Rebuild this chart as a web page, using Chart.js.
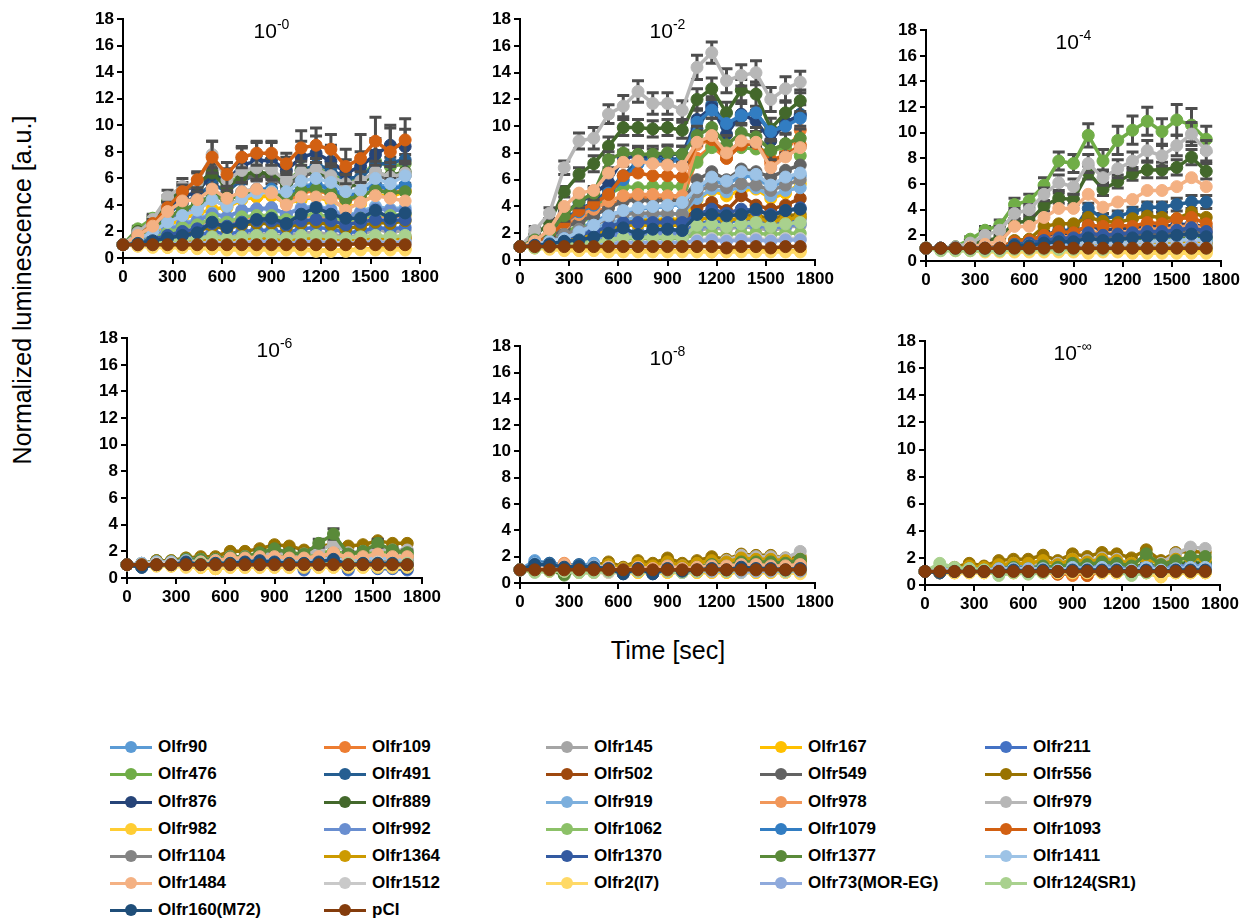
<!DOCTYPE html>
<html>
<head>
<meta charset="utf-8">
<script src="https://cdn.jsdelivr.net/npm/chart.js@4.4.1/dist/chart.umd.min.js"></script>
<style>
  body { margin: 0; background: #fff; }
  #page { position: relative; width: 1254px; height: 921px; overflow: hidden; font-family: "Liberation Sans", Arial, sans-serif; }
  #page canvas { position: absolute; }
  #yTitle { position: absolute; left: 22px; top: 290px; transform: translate(-50%, -50%) rotate(-90deg); font-size: 25px; white-space: nowrap; color: #000; }
  #xTitle { position: absolute; left: 668px; top: 650px; transform: translate(-50%, -50%); font-size: 25px; white-space: nowrap; color: #000; }
  .leg-item { position: absolute; height: 20px; display: flex; align-items: center; transform: translateY(-50%); }
  .leg-mark { position: relative; width: 42px; height: 20px; margin-right: 6px; }
  .leg-mark .ln { position: absolute; left: 0; right: 0; top: 8.5px; height: 3px; }
  .leg-mark .dot { position: absolute; left: 15px; top: 4px; width: 12px; height: 12px; border-radius: 50%; }
  .leg-text { font-size: 17px; font-weight: bold; color: #000; white-space: nowrap; }
</style>
</head>
<body>
<div id="page">
  <div id="yTitle">Normalized luminescence [a.u.]</div>
  <div id="xTitle">Time [sec]</div>
</div>
<script>
// Receptor names and their line colours
const names = ["Olfr90", "Olfr109", "Olfr145", "Olfr167", "Olfr211", "Olfr476", "Olfr491", "Olfr502",
  "Olfr549", "Olfr556", "Olfr876", "Olfr889", "Olfr919", "Olfr978", "Olfr979", "Olfr982",
  "Olfr992", "Olfr1062", "Olfr1079", "Olfr1093", "Olfr1104", "Olfr1364", "Olfr1370", "Olfr1377",
  "Olfr1411", "Olfr1484", "Olfr1512", "Olfr2(I7)", "Olfr73(MOR-EG)", "Olfr124(SR1)", "Olfr160(M72)", "pCI"];
const colors = ["#5B9BD5", "#ED7D31", "#A5A5A5", "#FFC000", "#4472C4", "#70AD47", "#255E91", "#9E480E",
  "#636363", "#997300", "#264478", "#43682B", "#7CAFDD", "#F1975A", "#B7B7B7", "#FFCD33",
  "#698ED0", "#8CC168", "#327DC2", "#D26012", "#848484", "#CC9A00", "#335AA1", "#5A8A39",
  "#9DC3E6", "#F4B183", "#C9C9C9", "#FFD966", "#8FAADC", "#A9D18E", "#1F4E79", "#843C0C"];

// Sampling times (sec)
const timeSec = [0, 90, 180, 270, 360, 450, 540, 630, 720, 810, 900, 990, 1080, 1170, 1260, 1350, 1440, 1530, 1620, 1710];

// Dose titles (exponent of 10)
const doseLabels = ["-0", "-2", "-4", "-6", "-8", "-\u221E"];

// Normalized luminescence, one row per receptor (same order as names)
const dose0 = [
  [1,1.5,2.2,3.0,3.6,3.9,4.8,4.3,4.9,5.0,5.1,4.6,5.4,5.6,5.3,4.7,5.0,5.6,5.3,5.5],
  [1,1.4,2.0,2.8,3.3,3.6,4.4,3.9,4.5,4.6,4.7,4.2,4.9,5.1,4.8,4.3,4.6,5.2,4.9,5.1],
  [1,1.1,1.2,1.3,1.4,1.5,1.7,1.5,1.7,1.8,1.8,1.6,1.9,1.9,1.8,1.6,1.7,2.2,1.9,2.1],
  [1,1.3,1.8,2.4,3.0,3.3,3.7,3.8,4.4,4.6,4.7,4.1,4.4,4.6,4.3,3.8,4.1,4.8,4.6,5.0],
  [1,1.1,1.2,1.4,1.6,1.7,2.0,1.8,2.0,2.1,2.1,1.9,2.2,2.3,2.2,1.9,2.0,2.3,2.2,2.3],
  [1,2.2,3.0,4.3,5.2,5.4,6.3,5.5,6.3,6.5,6.3,5.7,6.7,6.8,6.3,5.8,6.0,7.3,6.9,7.1],
  [1,1.6,2.3,3.3,4.2,4.6,5.6,5.0,5.9,6.2,6.3,5.6,6.6,7.0,6.7,6.0,6.1,7.0,7.2,7.4],
  [1,1.0,1.1,1.2,1.3,1.3,1.5,1.4,1.5,1.6,1.6,1.4,1.6,1.6,1.5,1.4,1.5,1.6,1.5,1.6],
  [1,1.8,2.7,4.0,5.1,5.4,6.6,5.4,6.0,6.2,6.1,5.4,6.2,6.4,6.0,5.3,5.6,6.3,5.9,6.2],
  [1,1.1,1.3,1.5,1.8,2.0,2.4,2.2,2.5,2.6,2.6,2.3,2.6,2.7,2.5,2.2,2.4,2.7,2.6,2.8],
  [1,1.6,2.4,3.6,4.6,5.0,6.3,5.8,7.0,7.3,7.4,6.6,7.6,7.9,7.3,6.4,6.9,7.8,8.5,8.4],
  [1,2.0,2.8,4.2,5.3,5.6,6.4,5.3,6.2,6.5,6.3,5.6,6.6,6.6,6.0,5.4,5.6,6.4,6.2,6.5],
  [1,1.3,1.7,2.2,2.6,2.9,3.4,3.1,3.5,3.7,3.7,3.3,3.8,3.9,3.7,3.2,3.5,3.9,3.7,3.8],
  [1,1.2,1.5,1.9,2.3,2.5,2.9,2.6,3.0,3.1,3.1,2.7,3.1,3.2,3.0,2.7,2.9,3.2,3.1,3.2],
  [1,1.9,2.9,4.6,5.4,5.7,7.8,5.9,6.6,6.8,6.7,5.8,6.5,6.7,6.2,5.6,5.8,6.5,6.1,6.4],
  [1,0.9,0.9,0.8,0.8,0.8,0.7,0.7,0.7,0.7,0.7,0.7,0.7,0.6,0.6,0.6,0.7,0.7,0.7,0.7],
  [1,1.2,1.6,2.1,2.5,2.8,3.3,3.1,3.6,3.7,3.8,3.3,3.7,3.8,3.6,3.1,3.4,3.7,3.6,3.6],
  [1,1.2,1.5,1.9,2.3,2.5,3.0,2.7,3.1,3.2,3.2,2.9,3.2,3.3,3.1,2.8,3.0,3.3,3.2,3.3],
  [1,1.5,2.1,2.9,3.6,4.0,4.8,4.4,5.0,5.2,5.2,4.7,5.3,5.5,5.2,4.6,5.0,5.4,5.2,5.4],
  [1,1.6,2.6,3.8,5.0,5.9,7.6,6.3,7.6,7.9,7.9,7.1,8.3,8.5,8.2,6.9,7.5,8.8,8.0,8.9],
  [1,1.0,1.1,1.1,1.2,1.2,1.3,1.2,1.3,1.3,1.3,1.2,1.3,1.4,1.3,1.2,1.3,1.4,1.3,1.4],
  [1,1.0,1.1,1.2,1.3,1.3,1.4,1.3,1.4,1.5,1.5,1.3,1.5,1.5,1.4,1.3,1.4,1.5,1.4,1.5],
  [1,1.2,1.4,1.7,2.0,2.2,2.6,2.4,2.7,2.8,2.8,2.5,2.8,2.9,2.8,2.5,2.7,2.9,2.8,2.9],
  [1,1.5,2.1,3.0,3.7,4.0,4.8,4.3,4.9,5.1,5.0,4.5,5.1,5.2,4.9,4.4,4.7,5.1,4.9,5.0],
  [1,1.4,2.0,2.7,3.2,3.6,4.4,3.9,4.5,4.9,5.0,5.0,5.8,6.0,5.7,5.0,5.1,6.0,5.6,6.2],
  [1,1.7,2.4,3.5,4.3,4.4,5.2,4.5,5.0,5.2,4.9,4.0,4.6,4.6,4.5,3.6,4.2,4.7,4.5,4.3],
  [1,1.0,1.0,1.1,1.1,1.1,1.2,1.1,1.2,1.2,1.2,1.1,1.2,1.2,1.2,1.1,1.2,1.2,1.2,1.2],
  [1,0.9,0.8,0.8,0.8,0.7,0.7,0.6,0.6,0.6,0.6,0.6,0.6,0.5,0.5,0.5,0.6,0.6,0.6,0.6],
  [1,1.0,1.0,1.1,1.1,1.1,1.1,1.1,1.1,1.2,1.2,1.1,1.2,1.2,1.1,1.1,1.1,1.2,1.1,1.2],
  [1,1.1,1.2,1.3,1.4,1.5,1.6,1.5,1.6,1.7,1.7,1.5,1.7,1.7,1.6,1.5,1.6,1.7,1.6,1.7],
  [1,1.1,1.3,1.5,1.7,1.9,2.7,2.3,2.6,2.9,3.0,2.6,3.3,3.8,3.3,3.0,3.0,3.6,3.0,3.4],
  [1,1.0,1.0,1.0,1.0,1.0,1.0,1.0,1.0,1.0,1.0,1.0,1.0,1.0,1.0,1.0,1.1,1.0,1.0,1.0]
];
const dose2 = [
  [1,1.3,1.6,2.0,2.4,2.8,3.4,3.6,3.8,3.9,4.0,4.2,5.3,6.0,5.6,6.3,6.2,5.4,6.0,6.3],
  [1,1.3,1.8,2.6,3.2,3.5,4.0,4.6,4.7,4.6,4.6,4.5,7.6,8.5,7.6,8.6,8.7,7.2,8.0,9.7],
  [1,1.1,1.2,1.3,1.4,1.5,1.6,1.7,1.7,1.7,1.7,1.7,2.2,2.4,2.3,2.5,2.4,2.2,2.4,2.6],
  [1,1.1,1.3,1.6,1.9,2.2,2.6,3.0,3.0,3.0,3.1,3.0,4.5,5.2,4.8,5.2,5.3,4.6,5.0,5.7],
  [1,1.1,1.2,1.4,1.6,1.7,1.9,2.1,2.1,2.1,2.1,2.1,2.7,2.9,2.8,3.0,3.0,2.7,2.9,3.1],
  [1,1.2,1.4,2.0,2.6,3.5,4.9,5.5,5.4,5.5,5.5,5.5,7.3,8.4,8.3,8.4,8.3,8.1,8.5,7.8],
  [1,1.4,1.9,3.0,3.8,4.3,5.2,6.3,7.4,7.6,7.5,7.6,9.8,11.6,10.0,10.7,11.0,9.5,10.2,10.9],
  [1,1.1,1.2,1.5,1.8,2.0,2.4,2.7,2.8,2.8,2.9,2.8,3.9,4.3,3.7,4.8,4.1,3.8,4.1,4.6],
  [1,1.3,1.7,2.4,2.9,3.3,3.9,4.4,4.5,4.4,4.5,4.4,6.0,6.6,6.0,6.8,6.6,6.2,6.7,7.1],
  [1,1.1,1.3,1.6,1.9,2.2,2.7,2.9,2.9,2.9,2.9,2.9,3.3,3.6,3.3,3.4,3.3,3.1,3.3,3.4],
  [1,1.4,2.0,3.5,4.3,4.9,5.8,7.6,7.8,7.7,7.9,7.9,10.5,11.4,9.4,10.9,10.4,8.9,10.3,10.8],
  [1,1.8,2.8,5.1,6.4,7.2,8.5,9.9,9.9,9.8,9.9,9.7,12.0,12.8,11.0,12.7,12.4,9.8,11.0,11.9],
  [1,1.2,1.4,1.7,2.0,2.3,2.8,3.0,3.2,3.3,3.4,3.5,4.6,5.3,5.1,5.5,5.4,4.8,5.2,5.4],
  [1,1.3,1.9,2.7,3.4,3.8,4.4,4.8,4.9,4.9,4.8,4.8,8.6,9.0,8.0,8.8,8.7,7.3,7.8,8.5],
  [1,2.2,3.5,6.9,8.9,9.1,10.9,11.5,12.6,11.7,11.7,11.2,14.4,15.5,13.4,13.8,14.0,12.0,12.8,13.3],
  [1,0.9,0.9,0.8,0.8,0.8,0.7,0.7,0.7,0.7,0.7,0.7,0.7,0.6,0.7,0.7,0.7,0.7,0.7,0.7],
  [1,1.1,1.2,1.4,1.5,1.6,1.8,1.9,1.9,1.9,2.0,1.9,2.4,2.6,2.5,2.6,2.6,2.4,2.5,2.7],
  [1,1.0,1.1,1.2,1.3,1.4,1.5,1.6,1.6,1.6,1.6,1.6,1.9,2.0,1.9,2.0,2.0,1.9,2.0,2.0],
  [1,1.3,1.8,2.8,3.6,4.1,5.0,6.0,7.2,7.4,7.3,7.5,10.3,11.2,10.2,10.8,11.0,9.6,10.0,10.6],
  [1,1.3,1.8,2.8,3.7,4.2,4.9,6.3,6.5,6.3,6.3,6.2,8.8,9.0,7.6,8.6,8.7,7.5,7.8,8.6],
  [1,1.2,1.4,1.9,2.3,2.6,3.1,3.4,3.5,3.5,3.5,3.4,5.1,5.6,5.4,5.7,5.6,5.2,5.6,6.0],
  [1,1.1,1.2,1.5,1.7,1.9,2.3,2.6,2.6,2.6,2.6,2.6,3.0,3.2,3.0,3.1,3.1,2.9,3.0,3.2],
  [1,1.1,1.3,1.6,1.9,2.1,2.5,2.8,2.8,2.8,2.8,2.8,3.4,3.8,3.5,3.8,3.7,3.4,3.7,3.9],
  [1,1.5,2.1,3.3,4.4,5.0,7.5,8.0,7.9,7.9,8.0,7.9,9.3,9.9,8.6,9.5,9.2,8.2,8.7,9.1],
  [1,1.2,1.4,1.6,2.1,2.6,3.3,3.7,3.9,4.0,4.1,4.3,5.4,6.2,5.9,6.6,6.4,5.6,6.2,6.5],
  [1,1.4,2.3,4.0,5.0,5.2,6.5,7.3,7.4,7.2,7.1,7.0,8.8,9.3,8.0,8.9,8.8,6.9,7.7,8.4],
  [1,1.0,1.1,1.1,1.2,1.2,1.3,1.3,1.3,1.3,1.3,1.3,1.5,1.6,1.5,1.6,1.6,1.5,1.6,1.6],
  [1,0.9,0.8,0.7,0.7,0.7,0.6,0.6,0.6,0.6,0.6,0.6,0.6,0.6,0.6,0.6,0.6,0.6,0.6,0.6],
  [1,1.0,1.1,1.1,1.1,1.2,1.2,1.3,1.3,1.3,1.3,1.3,1.4,1.5,1.4,1.5,1.5,1.4,1.5,1.5],
  [1,0.9,1.0,1.1,1.2,1.3,1.5,1.7,1.7,1.7,1.7,1.7,2.6,2.7,2.5,2.7,2.8,2.5,2.7,2.8],
  [1,1.1,1.2,1.4,1.5,1.7,2.0,2.4,1.9,2.3,2.3,2.2,3.4,3.4,3.3,3.4,3.8,3.3,3.7,3.8],
  [1,1.0,1.0,1.0,1.0,1.0,1.0,1.0,1.0,1.0,1.0,1.0,1.0,1.0,0.9,1.0,1.0,0.9,1.0,1.0]
];
const dose4 = [
  [1,1.0,1.0,1.0,1.0,1.0,1.2,1.2,1.3,1.3,1.3,1.4,1.3,1.4,1.4,1.4,1.5,1.5,1.6,1.5],
  [1,1.0,1.0,1.0,1.0,1.0,1.3,1.3,1.4,1.5,1.5,1.6,1.5,1.6,1.6,1.7,1.7,1.8,1.8,1.7],
  [1,1.0,1.0,0.9,1.0,1.0,1.2,1.2,1.3,1.4,1.4,1.5,1.4,1.5,1.5,1.5,1.6,1.6,1.6,1.6],
  [1,0.9,0.9,0.9,0.9,0.8,0.9,0.9,0.9,0.9,0.9,0.9,0.9,0.9,0.9,0.9,0.9,0.9,0.9,0.9],
  [1,1.0,1.0,1.0,1.0,1.0,1.1,1.1,1.2,1.2,1.2,1.3,1.2,1.3,1.3,1.3,1.3,1.4,1.4,1.3],
  [1,1.0,1.1,1.7,2.4,2.8,4.4,4.7,5.9,7.8,7.6,9.8,7.8,9.4,10.2,10.9,10.1,11.0,10.6,9.5],
  [1,1.0,1.0,1.0,1.0,1.0,1.5,1.6,2.0,2.4,2.4,4.1,3.3,3.5,3.8,4.2,4.2,4.4,4.6,4.6],
  [1,1.0,1.0,1.0,1.0,1.0,1.1,1.1,1.1,1.2,1.2,1.2,1.2,1.2,1.2,1.2,1.3,1.3,1.3,1.3],
  [1,1.0,1.0,1.0,1.0,1.0,1.3,1.3,1.5,1.7,1.7,2.1,1.8,1.9,2.0,2.1,2.1,2.2,2.4,2.2],
  [1,1.0,1.0,1.0,1.0,1.0,1.6,1.7,2.7,2.9,2.9,3.4,3.1,3.0,3.3,3.5,3.4,3.3,3.8,3.4],
  [1,1.0,1.0,1.0,1.0,1.0,1.4,1.5,1.8,2.1,2.1,2.8,2.4,2.5,2.6,2.7,2.7,2.8,2.9,2.6],
  [1,1.0,1.1,1.3,1.6,1.8,3.0,3.1,4.3,4.9,4.8,6.9,5.6,6.2,6.8,7.1,7.1,7.3,8.1,7.0],
  [1,1.0,1.0,1.0,1.0,1.0,1.2,1.2,1.3,1.4,1.4,1.6,1.5,1.5,1.6,1.6,1.7,1.7,1.8,1.7],
  [1,1.0,1.0,1.0,1.0,1.0,1.3,1.4,1.7,1.9,1.9,2.4,2.1,2.2,2.3,2.5,2.5,2.6,2.8,2.5],
  [1,1.0,1.1,1.4,2.0,2.4,3.7,4.0,5.2,6.1,5.8,7.6,6.5,7.2,7.8,8.6,8.2,9.0,9.9,8.6],
  [1,0.9,0.9,0.9,0.8,0.8,0.8,0.8,0.8,0.8,0.8,0.8,0.8,0.8,0.7,0.7,0.7,0.7,0.7,0.7],
  [1,1.0,1.0,1.0,1.0,1.0,1.1,1.1,1.2,1.2,1.2,1.3,1.2,1.3,1.3,1.3,1.3,1.4,1.4,1.3],
  [1,0.9,0.9,0.9,0.9,0.9,1.0,1.0,1.0,1.1,1.1,1.1,1.1,1.1,1.1,1.1,1.2,1.2,1.2,1.2],
  [1,1.0,1.0,1.0,1.0,1.0,1.2,1.2,1.3,1.4,1.4,1.6,1.5,1.5,1.6,1.6,1.7,1.7,1.8,1.7],
  [1,1.0,1.0,1.0,1.1,1.1,1.5,1.6,2.0,2.3,2.2,2.8,2.7,2.8,2.7,3.0,2.9,3.3,3.4,2.9],
  [1,1.0,1.0,1.0,1.0,1.0,1.2,1.2,1.4,1.5,1.5,1.8,1.6,1.7,1.8,1.9,1.9,2.0,2.2,1.9],
  [1,1.0,1.0,1.0,1.0,1.0,1.1,1.1,1.2,1.2,1.2,1.3,1.2,1.3,1.3,1.3,1.3,1.4,1.4,1.3],
  [1,1.0,1.0,1.0,1.0,1.0,1.3,1.4,1.6,1.8,1.8,2.2,2.0,2.1,2.2,2.3,2.3,2.4,2.6,2.3],
  [1,1.0,1.0,1.0,1.0,1.0,1.2,1.2,1.3,1.4,1.4,1.5,1.5,1.5,1.6,1.6,1.6,1.7,1.8,1.7],
  [1,1.0,1.0,1.0,1.0,1.0,1.1,1.2,1.3,1.3,1.3,1.5,1.4,1.4,1.5,1.5,1.6,1.6,1.7,1.6],
  [1,1.0,1.0,1.1,1.3,1.5,2.7,2.7,3.4,4.1,4.1,5.2,4.2,4.6,4.8,5.5,5.5,5.8,6.5,5.8],
  [1,1.0,1.0,1.0,1.0,1.0,1.1,1.1,1.1,1.1,1.1,1.2,1.1,1.2,1.2,1.2,1.2,1.2,1.3,1.2],
  [1,0.9,0.8,0.8,0.7,0.7,0.7,0.7,0.7,0.7,0.7,0.6,0.7,0.7,0.6,0.6,0.6,0.6,0.6,0.6],
  [1,1.0,1.0,1.0,1.0,1.0,1.0,1.0,1.1,1.1,1.1,1.1,1.1,1.1,1.1,1.1,1.1,1.1,1.2,1.1],
  [1,0.8,0.8,0.8,0.8,0.8,0.9,0.9,0.9,0.9,0.9,1.0,0.9,1.0,1.0,1.0,1.0,1.0,1.0,1.0],
  [1,1.0,1.0,1.0,1.0,1.0,1.2,1.2,1.4,1.5,1.5,1.8,1.6,1.7,1.8,1.9,1.9,2.0,2.1,1.9],
  [1,1.0,1.0,1.0,1.0,1.0,1.0,1.0,1.0,1.1,1.0,1.0,1.0,1.0,1.0,1.0,1.0,1.0,1.0,1.0]
];
const dose6 = [
  [1,1.1,1.3,1.2,1.3,1.2,1.2,1.3,1.2,1.3,1.3,1.2,1.3,1.3,1.4,1.2,1.3,1.3,1.3,1.3],
  [1,1.0,1.1,1.1,1.2,1.1,1.2,1.2,1.2,1.2,1.3,1.2,1.3,1.3,1.4,1.2,1.3,1.3,1.3,1.3],
  [1,1.1,1.2,1.2,1.3,1.2,1.3,1.3,1.3,1.4,1.4,1.3,1.4,1.4,1.6,1.4,1.4,1.5,1.5,1.5],
  [1,0.9,1.0,0.9,0.9,0.8,0.7,0.9,0.9,0.9,0.9,0.9,0.9,0.9,0.9,0.9,0.9,0.9,0.9,0.9],
  [1,0.9,1.0,1.0,1.0,1.0,1.0,1.0,1.0,1.0,1.0,1.0,0.6,1.0,1.0,0.6,1.0,0.7,0.7,0.6],
  [1,1.1,1.3,1.3,1.5,1.5,1.5,1.6,1.6,1.7,1.8,1.7,1.7,1.9,2.0,1.8,1.9,2.0,1.9,1.9],
  [1,0.8,1.0,1.0,1.3,1.0,1.1,1.1,1.1,1.3,1.2,1.2,1.1,1.2,1.3,1.0,1.1,1.1,1.1,1.0],
  [1,1.0,1.0,1.0,1.0,1.0,1.0,1.0,1.0,1.0,1.0,1.0,1.0,1.0,1.1,1.0,1.0,1.0,1.0,1.0],
  [1,1.0,1.1,1.1,1.1,1.1,1.1,1.2,1.2,1.2,1.2,1.2,1.2,1.2,1.3,1.2,1.2,1.2,1.2,1.2],
  [1,1.1,1.3,1.3,1.5,1.6,1.6,2.0,2.0,2.2,2.5,2.4,2.1,2.3,2.6,2.4,2.5,2.8,2.6,2.6],
  [1,0.9,1.0,1.0,1.1,1.0,1.0,1.1,1.0,1.1,1.1,1.0,0.9,1.0,1.1,0.8,0.9,0.9,0.9,0.8],
  [1,1.0,1.1,1.1,1.2,1.2,1.2,1.3,1.3,1.4,1.4,1.3,1.3,1.4,1.5,1.4,1.4,1.5,1.4,1.4],
  [1,1.1,1.2,1.2,1.3,1.3,1.3,1.3,1.3,1.4,1.4,1.3,1.3,1.4,1.5,1.3,1.4,1.4,1.4,1.4],
  [1,1.0,1.1,1.1,1.2,1.2,1.3,1.5,1.5,1.6,1.6,1.5,1.5,1.6,1.9,1.5,1.6,1.7,1.6,1.6],
  [1,1.1,1.2,1.2,1.4,1.4,1.4,1.6,1.6,1.8,1.9,1.8,1.8,2.0,2.6,1.9,2.0,2.2,2.1,2.1],
  [1,0.9,0.9,0.9,0.9,0.8,0.7,0.8,0.8,0.8,0.8,0.8,0.8,0.8,0.8,0.8,0.8,0.8,0.8,0.8],
  [1,1.0,1.1,1.1,1.1,1.1,1.1,1.1,1.1,1.2,1.2,1.1,1.1,1.1,1.2,1.1,1.1,1.1,1.1,1.1],
  [1,1.0,1.0,1.1,1.1,1.1,1.1,1.1,1.1,1.2,1.2,1.1,1.1,1.2,1.2,1.1,1.1,1.2,1.1,1.1],
  [1,1.0,1.1,1.1,1.2,1.1,1.1,1.2,1.1,1.2,1.2,1.1,1.1,1.2,1.2,1.1,1.1,1.1,1.1,1.1],
  [1,1.0,1.0,1.0,1.1,1.1,1.1,1.1,1.1,1.2,1.2,1.1,1.1,1.2,1.3,1.1,1.2,1.2,1.2,1.2],
  [1,1.0,1.0,1.0,1.1,1.1,1.1,1.1,1.1,1.1,1.1,1.1,1.1,1.1,1.2,1.1,1.1,1.1,1.1,1.1],
  [1,1.0,1.1,1.1,1.2,1.2,1.2,1.3,1.3,1.4,1.5,1.4,1.4,1.5,1.6,1.4,1.5,1.6,1.5,1.5],
  [1,0.9,1.0,1.0,1.0,1.0,1.0,1.0,1.0,1.0,1.0,1.0,0.8,1.0,1.0,0.8,0.9,0.8,0.8,0.7],
  [1,1.0,1.2,1.2,1.4,1.4,1.4,1.6,1.6,1.9,2.2,1.9,1.8,2.6,3.3,1.8,2.0,2.6,2.1,1.9],
  [1,1.1,1.2,1.2,1.3,1.2,1.3,1.3,1.3,1.4,1.4,1.3,1.3,1.4,1.5,1.3,1.4,1.5,1.4,1.4],
  [1,1.0,1.1,1.1,1.2,1.2,1.3,1.5,1.5,1.6,1.6,1.5,1.5,1.6,1.9,1.5,1.6,1.8,1.6,1.6],
  [1,1.0,1.1,1.1,1.1,1.1,1.1,1.1,1.1,1.2,1.2,1.1,1.1,1.2,1.2,1.1,1.1,1.2,1.1,1.1],
  [1,0.9,0.9,0.9,0.8,0.8,0.7,0.8,0.8,0.8,0.8,0.8,0.8,0.8,0.8,0.8,0.8,0.8,0.8,0.8],
  [1,1.0,1.0,1.0,1.0,1.0,1.0,1.0,1.0,1.0,1.0,1.0,1.0,1.0,1.1,1.0,1.0,1.0,1.0,1.0],
  [1,1.0,1.0,1.0,1.1,1.1,1.1,1.1,1.1,1.1,1.1,1.1,1.1,1.1,1.2,1.1,1.1,1.1,1.1,1.1],
  [1,0.8,1.0,1.0,1.2,1.0,1.1,1.1,1.2,1.3,1.2,1.1,1.1,1.2,1.4,1.0,1.1,1.1,1.1,1.0],
  [1,1.0,1.0,1.0,1.0,1.0,1.0,1.0,1.0,1.0,1.0,1.0,1.0,1.0,1.0,1.0,1.0,1.0,1.0,1.0]
];
const dose8 = [
  [1,1.7,1.5,1.4,1.3,1.5,1.2,1.1,1.2,1.1,1.3,1.2,1.1,1.2,1.1,1.4,1.3,1.2,1.1,1.3],
  [1,1.2,1.3,1.4,1.2,1.2,1.2,1.0,1.1,1.0,1.1,1.0,1.1,1.1,1.1,1.2,1.2,1.2,1.1,1.2],
  [1,1.0,1.0,1.1,1.0,1.1,1.1,1.0,1.2,1.1,1.3,1.1,1.2,1.3,1.3,1.5,1.4,1.4,1.3,1.6],
  [1,0.9,0.9,0.9,0.8,0.8,0.9,0.8,0.8,0.8,0.8,0.8,0.8,0.8,0.8,0.8,0.8,0.8,0.8,0.8],
  [1,1.3,1.2,1.2,1.3,1.1,1.1,0.9,1.1,0.9,1.2,1.0,1.0,1.1,1.0,1.2,1.1,1.0,1.0,1.1],
  [1,1.1,1.1,0.7,1.0,1.0,1.1,1.0,1.1,1.0,1.3,1.1,1.2,1.4,1.3,1.7,1.6,1.5,1.4,1.7],
  [1,1.5,1.5,1.3,1.4,1.3,1.2,0.8,1.3,0.8,1.4,1.0,1.1,1.2,1.1,1.3,1.2,1.2,1.1,1.2],
  [1,1.0,1.0,1.0,1.0,1.0,1.0,1.0,1.0,1.0,1.0,1.0,1.0,1.0,1.0,1.1,1.0,1.0,1.0,1.0],
  [1,1.1,1.1,1.1,1.1,1.1,1.1,1.0,1.1,1.0,1.2,1.1,1.1,1.2,1.2,1.3,1.3,1.2,1.2,1.3],
  [1,1.1,1.2,1.2,1.2,1.3,1.6,1.2,1.7,1.5,1.9,1.5,1.7,2.0,1.8,2.2,2.1,2.1,1.9,2.0],
  [1,1.2,1.2,1.1,1.2,1.1,1.1,0.7,1.1,0.7,1.1,0.9,1.0,1.0,1.0,1.1,1.0,1.0,0.9,1.0],
  [1,1.1,1.1,1.0,1.1,1.1,1.2,1.0,1.2,1.1,1.3,1.2,1.3,1.4,1.4,1.6,1.5,1.5,1.4,1.6],
  [1,1.5,1.4,1.3,1.3,1.4,1.2,1.0,1.2,1.0,1.2,1.1,1.1,1.2,1.1,1.3,1.2,1.2,1.1,1.2],
  [1,1.1,1.1,1.5,1.1,1.2,1.2,1.0,1.2,1.1,1.3,1.1,1.2,1.3,1.3,1.4,1.4,1.4,1.3,1.4],
  [1,1.1,1.2,1.2,1.2,1.2,1.3,1.1,1.4,1.2,1.5,1.3,1.4,1.6,1.7,2.1,2.0,2.0,1.9,2.4],
  [1,0.9,0.9,0.9,0.8,0.8,0.8,0.8,0.8,0.8,0.8,0.8,0.8,0.8,0.8,0.8,0.8,0.8,0.8,0.8],
  [1,1.2,1.2,1.1,1.2,1.2,1.1,0.9,1.1,0.9,1.1,1.0,1.0,1.1,1.0,1.1,1.1,1.1,1.0,1.1],
  [1,1.0,1.0,0.8,1.0,1.0,1.0,1.0,1.0,0.9,1.1,1.0,1.1,1.2,1.1,1.3,1.3,1.3,1.2,1.4],
  [1,1.4,1.3,1.2,1.3,1.3,1.2,0.9,1.2,1.0,1.2,1.0,1.1,1.1,1.1,1.2,1.2,1.1,1.1,1.2],
  [1,1.0,1.1,1.1,1.1,1.1,1.1,1.0,1.1,1.0,1.2,1.1,1.1,1.2,1.2,1.3,1.3,1.3,1.2,1.3],
  [1,1.0,1.0,1.0,1.0,1.0,1.0,1.0,1.1,1.0,1.1,1.0,1.1,1.1,1.1,1.2,1.1,1.1,1.1,1.2],
  [1,1.1,1.1,1.1,1.1,1.2,1.4,1.1,1.5,1.3,1.6,1.3,1.5,1.7,1.6,1.9,1.8,1.8,1.7,1.8],
  [1,1.2,1.2,1.1,1.2,1.1,1.0,0.8,1.0,0.8,1.0,0.9,1.0,1.0,1.0,1.1,1.0,1.0,0.9,1.0],
  [1,1.0,1.0,0.6,1.0,1.0,1.1,1.0,1.1,1.0,1.3,1.1,1.2,1.4,1.3,1.6,1.6,1.6,1.5,1.8],
  [1,1.3,1.3,1.2,1.2,1.3,1.2,0.9,1.1,0.9,1.1,1.0,1.1,1.1,1.0,0.8,0.9,1.1,0.8,1.1],
  [1,1.1,1.1,1.4,1.1,1.2,1.2,1.0,1.2,1.1,1.3,1.1,1.2,1.3,1.3,1.4,1.4,1.3,1.3,1.4],
  [1,0.9,0.9,0.9,0.8,0.8,0.8,0.8,0.9,0.8,0.9,0.8,0.9,0.9,0.9,1.0,0.9,0.9,0.9,1.0],
  [1,0.9,0.9,0.9,0.9,0.9,0.9,0.8,0.9,0.8,0.9,0.8,0.9,0.9,0.9,0.9,0.9,0.9,0.8,0.7],
  [1,1.0,1.0,1.0,0.9,0.9,0.9,0.8,0.9,0.8,0.9,0.8,0.9,0.9,0.9,0.9,0.9,0.9,0.9,0.9],
  [1,0.8,0.9,0.9,0.8,0.8,0.9,0.8,0.9,0.8,0.9,0.8,0.9,1.0,0.9,1.0,1.0,1.0,0.9,1.0],
  [1,1.4,1.4,1.2,1.3,1.2,1.1,0.7,1.1,0.7,1.1,0.9,1.0,1.1,1.0,1.2,1.1,1.1,1.0,1.1],
  [1,1.0,1.0,1.0,1.0,1.0,1.0,1.0,1.0,1.0,1.0,1.0,1.0,1.0,1.0,1.0,1.0,1.0,1.0,1.0]
];
const doseInf = [
  [1,1.1,1.1,1.2,1.1,1.2,1.3,1.2,1.2,1.1,1.3,1.2,1.2,1.2,1.1,1.2,1.1,1.2,1.3,1.2],
  [1,1.0,1.0,1.1,1.0,1.0,1.1,1.0,1.0,0.9,0.7,1.0,1.0,1.0,1.0,1.0,1.0,1.0,1.0,1.0],
  [1,1.1,1.1,1.2,1.2,1.3,1.4,1.3,1.4,1.3,1.5,1.4,1.5,1.5,1.3,1.5,1.3,1.5,1.6,1.6],
  [1,0.9,0.9,1.0,0.9,0.9,0.9,0.9,0.9,0.9,0.9,0.9,0.9,0.9,0.9,0.9,0.6,0.9,0.9,0.9],
  [1,0.9,1.0,1.0,1.0,1.0,1.0,0.9,1.0,0.9,1.0,1.0,1.0,1.0,1.0,1.0,1.0,1.0,1.0,1.0],
  [1,1.2,1.1,1.2,1.1,1.2,1.3,1.2,1.3,1.2,1.5,1.4,1.5,1.5,1.3,1.6,1.3,1.6,1.7,1.7],
  [1,0.9,1.0,1.1,1.0,1.0,1.1,1.0,1.0,1.0,1.1,1.1,1.1,1.1,1.0,1.1,1.0,1.1,1.1,1.2],
  [1,1.0,1.0,1.0,1.0,1.0,1.0,1.0,1.0,1.0,1.0,1.0,1.0,1.0,1.0,1.0,1.0,1.0,1.0,1.0],
  [1,1.0,1.0,1.1,1.0,1.1,1.1,1.0,1.1,1.0,1.1,1.1,1.1,1.1,1.0,1.1,1.0,1.1,1.1,1.1],
  [1,1.2,1.3,1.6,1.4,1.8,1.9,1.9,2.2,1.8,2.3,2.1,2.4,2.3,2.0,2.6,1.8,2.4,2.5,2.4],
  [1,0.9,1.0,1.0,1.0,1.0,1.1,1.0,1.1,1.0,1.1,1.1,1.1,1.1,1.0,1.1,1.0,1.1,1.1,1.2],
  [1,1.0,1.1,1.1,1.1,1.2,1.2,1.2,1.3,1.2,1.4,1.3,1.4,1.4,1.3,1.5,1.3,1.5,1.6,1.6],
  [1,1.2,1.1,1.2,1.1,1.2,1.3,1.3,1.3,1.2,1.4,1.3,1.4,1.3,1.2,1.4,1.2,1.3,1.4,1.4],
  [1,1.0,1.0,1.1,1.0,1.0,1.1,1.0,1.0,0.8,1.0,0.7,1.0,1.0,1.0,1.0,1.0,1.0,1.0,1.0],
  [1,1.1,1.2,1.3,1.2,1.4,1.6,1.4,1.7,1.6,1.9,1.8,2.0,1.9,1.6,2.1,1.6,2.3,2.8,2.7],
  [1,0.9,0.9,0.9,0.9,0.9,0.9,0.9,0.9,0.9,0.9,0.9,0.9,0.9,0.9,0.9,0.7,0.9,0.9,0.9],
  [1,1.1,1.1,1.2,1.1,1.3,1.4,1.3,1.4,1.3,1.4,1.3,1.5,1.4,1.2,1.4,1.2,1.4,1.4,1.4],
  [1,1.3,1.1,1.1,1.0,1.0,1.1,1.0,1.0,1.0,1.0,1.0,1.0,1.0,0.8,1.0,1.0,1.0,1.0,1.0],
  [1,1.0,1.0,1.1,1.0,1.1,1.2,1.1,1.1,1.1,1.2,1.1,1.2,1.2,1.1,1.2,1.1,1.2,1.2,1.2],
  [1,1.0,1.0,1.0,1.0,1.0,1.0,0.9,1.0,0.8,0.9,0.7,1.0,1.0,1.0,1.0,1.0,1.0,1.0,1.0],
  [1,1.0,1.0,1.1,1.0,1.1,1.1,1.0,1.1,1.0,1.1,1.1,1.1,1.1,1.0,1.1,1.0,1.1,1.1,1.1],
  [1,1.1,1.2,1.4,1.3,1.5,1.6,1.6,1.8,1.5,1.9,1.7,1.9,1.8,1.6,2.0,1.5,1.9,2.0,1.9],
  [1,0.9,1.0,1.0,1.0,1.0,1.0,0.9,1.0,1.0,1.0,1.0,1.0,1.0,1.0,1.0,1.0,1.0,1.1,1.1],
  [1,1.1,1.1,1.2,1.1,1.2,1.3,1.2,1.4,1.3,1.6,1.5,1.7,1.6,1.4,2.3,1.5,1.8,2.1,2.1],
  [1,1.2,1.1,1.2,1.1,1.2,1.2,1.2,1.2,1.1,1.3,1.2,1.3,1.2,1.1,1.3,1.1,1.2,1.3,1.3],
  [1,1.0,1.0,1.1,1.0,1.1,1.1,1.1,1.1,1.0,1.1,1.1,1.1,1.1,1.0,1.1,1.0,1.1,1.1,1.1],
  [1,1.0,1.0,1.0,1.0,1.0,1.0,1.0,1.0,1.0,1.0,1.0,1.0,1.0,1.0,1.0,1.0,1.0,1.0,1.0],
  [1,0.9,0.9,0.9,0.9,0.9,0.9,0.9,0.9,0.9,0.9,0.9,0.9,0.9,0.9,0.9,0.6,0.9,0.9,0.9],
  [1,1.0,1.0,1.1,1.0,1.1,1.1,1.1,1.1,1.0,1.1,1.1,1.1,1.1,1.0,1.1,1.0,1.1,1.1,1.1],
  [1,1.6,1.3,1.2,1.1,0.7,0.9,0.8,0.9,1.0,1.0,1.0,1.0,1.0,0.7,0.9,1.0,1.0,1.0,1.0],
  [1,0.9,1.0,1.0,1.0,1.0,1.1,1.0,1.1,1.0,1.1,1.1,1.1,1.1,1.0,1.1,1.0,1.1,1.1,1.1],
  [1,1.0,1.0,1.0,1.0,1.0,1.0,1.0,1.0,1.0,1.0,1.0,1.0,1.0,1.0,1.0,1.0,1.0,1.0,1.0]
];

// Standard errors for the receptors whose bars show above the pack
const sem0 = [
  ["Olfr979", [0,0.2,0.3,0.5,0.6,0.7,1.0,0.8,0.9,0.9,0.8,0.7,0.8,0.8,0.7,0.7,0.7,0.8,0.8,0.8]],
  ["Olfr476", [0,0.2,0.3,0.4,0.5,0.5,0.6,0.6,0.7,0.7,0.7,0.6,0.7,0.7,0.7,0.6,0.6,0.8,0.7,0.7]],
  ["Olfr876", [0,0.2,0.3,0.4,0.5,0.6,0.8,0.9,1.3,1.4,1.3,1.0,1.2,1.3,1.2,1.0,1.1,1.2,1.3,1.3]],
  ["Olfr1093", [0,0.2,0.3,0.4,0.5,0.6,1.2,0.9,0.8,0.9,0.9,0.8,1.3,1.3,1.1,1.3,1.8,1.8,2.0,1.6]]
];
const sem2 = [
  ["Olfr979", [0,0.3,0.4,0.5,0.6,0.8,0.7,0.8,0.8,0.8,0.8,0.7,0.9,0.8,0.9,0.8,0.9,0.9,0.9,0.8]],
  ["Olfr889", [0,0.2,0.3,0.4,0.5,0.6,0.7,0.6,0.6,0.6,0.6,0.6,0.8,0.8,0.8,0.8,0.9,0.8,0.8,0.8]],
  ["Olfr876", [0,0.2,0.3,0.4,0.5,0.5,0.6,0.6,0.6,0.6,0.6,0.6,0.8,0.8,0.8,0.8,0.8,0.7,0.8,0.8]],
  ["Olfr1377", [0,0.2,0.3,0.4,0.5,0.5,0.6,0.6,0.6,0.6,0.6,0.6,0.7,0.7,0.7,0.7,0.7,0.7,0.7,0.7]]
];
const sem4 = [
  ["Olfr476", [0,0.1,0.1,0.2,0.3,0.4,0.5,0.5,0.6,0.7,0.7,0.9,0.9,1.1,1.1,1.1,1.0,1.2,1.3,1.0]],
  ["Olfr979", [0,0.1,0.1,0.2,0.3,0.3,0.4,0.4,0.5,0.6,0.6,0.7,0.6,0.7,0.7,0.8,0.8,0.8,0.9,0.8]],
  ["Olfr889", [0,0.1,0.1,0.1,0.2,0.2,0.3,0.3,0.4,0.4,0.4,0.5,0.5,0.5,0.5,0.6,0.6,0.6,0.6,0.6]],
  ["Olfr491", [0,0.1,0.1,0.1,0.1,0.1,0.2,0.2,0.3,0.3,0.3,0.4,0.4,0.4,0.4,0.4,0.4,0.5,0.5,0.5]]
];
const sem6 = [
  ["Olfr1377", [0,0.1,0.1,0.1,0.1,0.1,0.1,0.1,0.1,0.2,0.2,0.2,0.2,0.3,0.4,0.2,0.2,0.3,0.2,0.2]]
];

const doseData = [dose0, dose2, dose4, dose6, dose8, doseInf];
const doseSem = [sem0, sem2, sem4, sem6, [], []];

// Plot area of each panel on the page (left, right, top, bottom)
const panelAreas = [
  { l: 123, r: 420, t: 18, b: 258 },
  { l: 520, r: 815, t: 18, b: 260 },
  { l: 926, r: 1221, t: 29, b: 261 },
  { l: 127, r: 422, t: 337, b: 578 },
  { l: 520, r: 815, t: 345, b: 583 },
  { l: 925, r: 1220, t: 340, b: 585 }
];
const axisW = 50, axisH = 34, padTop = 12, padRight = 34;
const fontFamily = '"Liberation Sans", Arial, sans-serif';

// "10" with a superscript exponent, centred near the top of the plot
const doseTitlePlugin = {
  id: "doseTitle",
  afterDraw(chart, args, opts) {
    const { ctx, chartArea } = chart;
    const cx = (chartArea.left + chartArea.right) / 2;
    const y = chartArea.top + 13;
    ctx.save();
    ctx.fillStyle = "#000";
    ctx.textBaseline = "middle";
    ctx.textAlign = "left";
    ctx.font = "21px " + fontFamily;
    const baseW = ctx.measureText("10").width;
    ctx.font = "14px " + fontFamily;
    const supW = ctx.measureText(opts.exp).width;
    const x0 = cx - (baseW + supW) / 2;
    ctx.font = "21px " + fontFamily;
    ctx.fillText("10", x0, y);
    ctx.font = "14px " + fontFamily;
    ctx.fillText(opts.exp, x0 + baseW, y - 7);
    ctx.restore();
  }
};

// Error bars drawn just before their own series so the markers sit on top
const errorBarPlugin = {
  id: "errorBars",
  beforeDatasetDraw(chart, args, opts) {
    const entry = (opts.list || []).find((e) => names.indexOf(e[0]) === args.index);
    if (!entry) return;
    const { ctx } = chart;
    const xs = chart.scales.x, ys = chart.scales.y;
    const values = chart.data.datasets[args.index].data;
    ctx.save();
    ctx.strokeStyle = "#4D4D4D";
    ctx.lineWidth = 3;
    values.forEach((pt, i) => {
      const err = entry[1][i];
      if (!err) return;
      const px = xs.getPixelForValue(pt.x);
      const hi = ys.getPixelForValue(pt.y + err);
      const lo = ys.getPixelForValue(pt.y - err);
      ctx.beginPath();
      ctx.moveTo(px, lo); ctx.lineTo(px, hi);
      ctx.moveTo(px - 6, hi); ctx.lineTo(px + 6, hi);
      ctx.moveTo(px - 6, lo); ctx.lineTo(px + 6, lo);
      ctx.stroke();
    });
    ctx.restore();
  }
};

const page = document.getElementById("page");
const tickFont = { family: fontFamily, size: 17, weight: "bold" };

panelAreas.forEach((area, p) => {
  const canvas = document.createElement("canvas");
  const w = area.r - area.l + axisW + padRight;
  const h = area.b - area.t + padTop + axisH;
  canvas.width = w;
  canvas.height = h;
  canvas.style.left = (area.l - axisW) + "px";
  canvas.style.top = (area.t - padTop) + "px";
  canvas.style.width = w + "px";
  canvas.style.height = h + "px";
  page.appendChild(canvas);

  const datasets = names.map((name, i) => ({
    label: name,
    data: timeSec.map((t, k) => ({ x: t, y: doseData[p][i][k] })),
    borderColor: colors[i],
    backgroundColor: colors[i],
    pointBackgroundColor: colors[i],
    pointBorderColor: colors[i],
    borderWidth: 3.5,
    pointRadius: 6,
    pointBorderWidth: 1,
    tension: 0,
    clip: false,
    order: names.length - i
  }));

  new Chart(canvas, {
    type: "line",
    data: { datasets },
    options: {
      responsive: false,
      animation: false,
      devicePixelRatio: 1,
      layout: { padding: { top: padTop, right: padRight, left: 0, bottom: 0 } },
      plugins: {
        legend: { display: false },
        tooltip: { enabled: false },
        doseTitle: { exp: doseLabels[p] },
        errorBars: { list: doseSem[p] }
      },
      scales: {
        x: {
          type: "linear",
          min: 0,
          max: 1800,
          afterFit: (s) => { s.height = axisH; },
          ticks: { stepSize: 300, autoSkip: false, maxRotation: 0, color: "#000", font: tickFont, padding: 3,
            callback: (v) => String(v) },
          grid: { drawOnChartArea: false, drawTicks: true, tickLength: 6, color: "#000", lineWidth: 2 },
          border: { color: "#000", width: 2 }
        },
        y: {
          min: 0,
          max: 18,
          afterFit: (s) => { s.width = axisW; },
          ticks: { stepSize: 2, color: "#000", font: tickFont, padding: 3, callback: (v) => String(v) },
          grid: { drawOnChartArea: false, drawTicks: true, tickLength: 6, color: "#000", lineWidth: 2 },
          border: { color: "#000", width: 2 }
        }
      }
    },
    plugins: [doseTitlePlugin, errorBarPlugin]
  });
});

// Legend: five columns, filled row by row
const legendCols = [110, 324, 546, 760, 985];
const legendRows = [747, 774, 802, 829, 856, 883, 910];
names.forEach((name, i) => {
  const item = document.createElement("div");
  item.className = "leg-item";
  item.style.left = legendCols[i % 5] + "px";
  item.style.top = legendRows[Math.floor(i / 5)] + "px";
  item.innerHTML =
    '<div class="leg-mark"><div class="ln" style="background:' + colors[i] + '"></div>' +
    '<div class="dot" style="background:' + colors[i] + '"></div></div>' +
    '<span class="leg-text">' + name + "</span>";
  page.appendChild(item);
});
</script>
</body>
</html>
